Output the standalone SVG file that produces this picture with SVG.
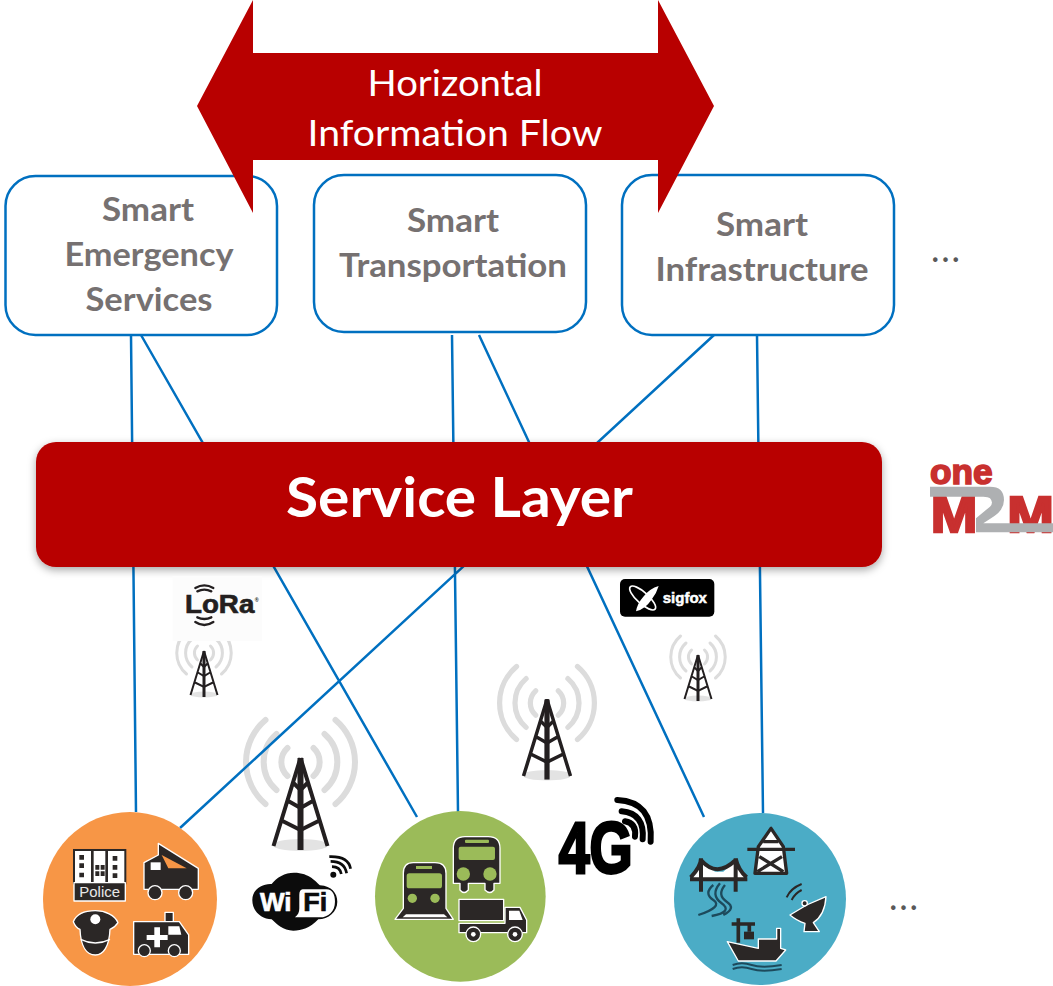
<svg xmlns="http://www.w3.org/2000/svg" xmlns:xlink="http://www.w3.org/1999/xlink" width="1053" height="986" viewBox="0 0 1053 986">
<style>
.link{stroke:#0070c0;stroke-width:2.5;fill:none}
.box{fill:#fff;stroke:#0070c0;stroke-width:2.5}
.lbl{font-family:Lato,"Liberation Sans",sans-serif;font-weight:700;font-size:33px;fill:#767171;text-anchor:middle}
.flow{font-family:Lato,"Liberation Sans",sans-serif;font-size:37px;fill:#fff;text-anchor:middle}
.dots{font-family:Lato,"Liberation Sans",sans-serif;font-size:36px;fill:#595959}
.ic{fill:#2b2726;stroke:#fff;stroke-width:4;stroke-linejoin:round}
.logo{font-family:"Liberation Sans",sans-serif;font-weight:700}
.arc{fill:none;stroke:#dcdcdc;stroke-width:6;stroke-linecap:round}
</style>
<defs>
<filter id="sh" x="-5%" y="-15%" width="110%" height="135%"><feDropShadow dx="0" dy="3" stdDeviation="4" flood-color="#000" flood-opacity=".35"/></filter>
<g id="tower">
<path class="arc" d="M-13-14a19 19 0 0 0 0 28M13-14a19 19 0 0 1 0 28M-24-28a37 37 0 0 0 0 56M24-28a37 37 0 0 1 0 56M-35-42a55 55 0 0 0 0 84M35-42a55 55 0 0 1 0 84"/>
<ellipse cx="0" cy="83" rx="28" ry="6" fill="#e3e3e3"/>
<path fill="none" stroke="#231f20" stroke-width="4" d="M0-4L-27 84M0-4L27 84M-8 20L0 28L8 20M-14 38L0 46L14 38M-20 58L0 68L20 58"/>
<path stroke="#231f20" stroke-width="6" d="M0-4V88"/>
</g>
</defs>
<rect width="1053" height="986" fill="#fff"/>

<g id="boxes">
<g id="node-emergency"><rect class="box" x="5.500" y="176" width="271.500" height="159" rx="30"/>
<text class="lbl" x="148" y="221" textLength="92" lengthAdjust="spacingAndGlyphs">Smart</text>
<text class="lbl" x="149" y="266" textLength="169" lengthAdjust="spacingAndGlyphs">Emergency</text>
<text class="lbl" x="149" y="311" textLength="127" lengthAdjust="spacingAndGlyphs">Services</text></g>
<g id="node-transportation"><rect class="box" x="314" y="175" width="272" height="157" rx="30"/>
<text class="lbl" x="453" y="232" textLength="92" lengthAdjust="spacingAndGlyphs">Smart</text>
<text class="lbl" x="453" y="277" textLength="228" lengthAdjust="spacingAndGlyphs">Transportation</text></g>
<g id="node-infrastructure"><rect class="box" x="622" y="175" width="272" height="160" rx="30"/>
<text class="lbl" x="762" y="236" textLength="92" lengthAdjust="spacingAndGlyphs">Smart</text>
<text class="lbl" x="762" y="281" textLength="213" lengthAdjust="spacingAndGlyphs">Infrastructure</text></g>
</g>

<g id="node-flow">
<polygon fill="#b80000" points="197,106 253,0 253,53 658,53 658,0 714,106 658,213 658,160 253,160 253,213"/>
<text class="flow" x="455" y="96" textLength="175" lengthAdjust="spacingAndGlyphs">Horizontal</text>
<text class="flow" x="455" y="146" textLength="295" lengthAdjust="spacingAndGlyphs">Information Flow</text>
</g>

<text class="dots" x="931" y="262" textLength="29" lengthAdjust="spacing">...</text>
<text class="dots" x="889" y="910" textLength="29" lengthAdjust="spacing">...</text>

<g id="towers">
<use xlink:href="#tower" href="#tower" transform="translate(300.500,762)"/>
<use xlink:href="#tower" href="#tower" transform="translate(547,703) scale(.87)"/>
<use xlink:href="#tower" href="#tower" transform="translate(204,653) scale(.5)"/>
<use xlink:href="#tower" href="#tower" transform="translate(698,657) scale(.5)"/>
</g>

<g id="connectors">
<path class="link" d="M131 335L136 812M141 335L417 817M452 335L458 812M479 335L704 817M714 335L180 828M757 335L763 813"/>
</g>

<g id="node-service-layer">
<rect x="36" y="442" width="846" height="125" rx="20" fill="#b80000" filter="url(#sh)"/>
<text x="459.500" y="517" text-anchor="middle" font-family="Lato,'Liberation Sans',sans-serif" font-weight="700" font-size="56" fill="#fff" textLength="347" lengthAdjust="spacingAndGlyphs">Service Layer</text>
</g>

<g id="logo-onem2m" transform="translate(900,450) scale(.3333)">
<text class="logo" x="90" y="103" font-size="108" fill="#c8302f" stroke="#c8302f" stroke-width="5" textLength="188" lengthAdjust="spacingAndGlyphs">one</text>
<text class="logo" x="92" y="245" font-size="150" fill="#c8302f" stroke="#c8302f" stroke-width="7" textLength="140" lengthAdjust="spacingAndGlyphs">M</text>
<text class="logo" x="322" y="245" font-size="150" fill="#c8302f" stroke="#c8302f" stroke-width="7" textLength="140" lengthAdjust="spacingAndGlyphs">M</text>
<path d="M90 110H270Q312 110 312 150Q312 180 280 200L250 220H459V247H228V205L270 170Q282 158 270 145Q265 140 250 140H90Z" fill="#aeb0b2"/>
</g>

<g id="logo-lora" transform="translate(160,570) scale(.3333)">
<rect x="38" y="18" width="268" height="195" fill="#fcfcfc"/>
<text class="logo" x="75" y="128" font-size="78" fill="#231f20" stroke="#231f20" stroke-width="2" textLength="208" lengthAdjust="spacingAndGlyphs">LoRa</text>
<text class="logo" x="284" y="96" font-size="16" fill="#231f20">®</text>
<path fill="none" stroke="#231f20" stroke-width="7" stroke-linecap="round" d="M112 64Q133 54 154 64M106 54Q133 38 160 54M112 142Q133 152 154 142M106 156Q133 174 160 156"/>
</g>

<g id="logo-sigfox" transform="translate(610,570) scale(.3333)">
<rect x="30" y="27" width="283" height="113" rx="15" fill="#000"/>
<g fill="none" stroke="#fff" stroke-width="5"><ellipse cx="98" cy="84" rx="50" ry="17" transform="rotate(42 98 84)"/></g>
<path fill="#fff" d="M146 48Q120 55 100 80Q82 100 78 124Q105 118 124 90Q140 70 146 48Z"/>
<text class="logo" x="158" y="98" font-size="45" fill="#fff" stroke="#fff" stroke-width="1.500" textLength="133" lengthAdjust="spacingAndGlyphs">sigfox</text>
</g>

<g id="node-emergency-services" transform="translate(20,800) scale(.3333)">
<circle cx="330" cy="297" r="261" fill="#f79646"/>
<rect x="162" y="150" width="154" height="100" fill="#fff" stroke="#2b2726" stroke-width="6"/>
<path fill="#2b2726" d="M213 150h8v98h-8zM264 150h-8v98h8zM178 165h14v14h-14zM178 190h14v14h-14zM178 218h14v14h-14zM278 168h14v14h-14zM278 195h14v14h-14zM278 220h14v14h-14zM226 195h12v14h-12zM242 195h12v14h-12zM226 214h12v14h-12zM242 214h12v14h-12z"/>
<rect class="ic" x="162" y="248" width="154" height="55"/>
<text x="239" y="291" text-anchor="middle" font-family="'Liberation Sans',sans-serif" font-size="42" fill="#e8e8e8" textLength="122" lengthAdjust="spacingAndGlyphs">Police</text>
<path class="ic" d="M372 268V188L415 165V130L535 205V268Z"/>
<path fill="#f79646" d="M425 165L500 205H445Z"/>
<rect x="392" y="187" width="30" height="23" fill="#fff"/>
<circle class="ic" cx="405" cy="278" r="21"/><circle class="ic" cx="497" cy="278" r="21"/>
<path class="ic" d="M160 365C170 340 200 332 226 332C255 332 285 345 294 368C285 382 275 386 270 388C268 440 250 465 226 465C200 465 182 440 180 388C172 385 165 378 160 365Z"/>
<circle cx="226" cy="358" r="15" fill="#fff"/>
<path d="M182 418Q226 440 270 418" fill="none" stroke="#fff" stroke-width="4"/>
<rect class="ic" x="435" y="337" width="25" height="30"/>
<path class="ic" d="M341 365H478L506 405V463H341Z"/>
<path fill="#fff" d="M445 379H478L484 404H445ZM403 382H420V405H443V420H420V442H403V420H380V405H403Z"/>
<circle class="ic" cx="373" cy="452" r="18"/><circle class="ic" cx="463" cy="452" r="18"/>
</g>

<g id="logo-wifi" transform="translate(20,800) scale(.3333)">
<path d="M822 218C870 218 890 248 900 256C935 258 952 280 952 305C952 335 925 358 895 358C870 385 845 392 820 392C790 392 770 372 755 358C725 358 697 335 697 300C697 270 725 250 755 252C770 232 795 218 822 218Z" fill="#0c0c0c"/>
<path d="M848 268H920C938 268 945 285 945 305C945 335 925 352 900 352H825C835 345 838 335 838 325V285C838 275 842 268 848 268Z" fill="#fff"/>
<text class="logo" x="720" y="332" font-size="78" fill="#fff" stroke="#fff" stroke-width="2" textLength="95" lengthAdjust="spacingAndGlyphs">Wi</text>
<text class="logo" x="850" y="332" font-size="78" fill="#0c0c0c" stroke="#0c0c0c" stroke-width="2" textLength="72" lengthAdjust="spacingAndGlyphs">Fi</text>
<circle cx="940" cy="224" r="9" fill="#0c0c0c"/>
<path fill="none" stroke="#0c0c0c" stroke-width="8" d="M936 200Q960 200 964 222M932 184Q974 184 980 220M928 170Q985 168 992 206"/>
</g>

<g id="node-transportation-services" transform="translate(370,780) scale(.3333)">
<circle cx="271" cy="349" r="256" fill="#9bbb59"/>
<path class="ic" d="M75 418L100 385V280Q100 248 130 248H195Q228 248 228 280V385L250 418Z"/>
<path fill="#fff" d="M108 403H222L232 412H98Z"/>
<rect x="110" y="280" width="106" height="45" rx="8" fill="#9bbb59"/>
<rect x="138" y="258" width="48" height="9" fill="#9bbb59"/>
<circle cx="127" cy="355" r="14" fill="#9bbb59"/><circle cx="195" cy="355" r="14" fill="#9bbb59"/>
<path class="ic" d="M250 310V205Q250 170 285 170H355Q390 170 390 205V310H372V330Q360 345 345 330V310H295V330Q282 345 270 330V310Z"/>
<rect x="266" y="200" width="109" height="40" rx="6" fill="#9bbb59"/>
<rect x="285" y="179" width="72" height="10" rx="3" fill="#9bbb59"/>
<circle cx="280" cy="282" r="20" fill="#9bbb59"/><circle cx="360" cy="282" r="20" fill="#9bbb59"/>
<rect class="ic" x="267" y="358" width="134" height="64"/>
<path class="ic" d="M267 430H405V382H450L470 420V458H267Z"/>
<path fill="#fff" d="M417 392H448L458 420H417Z"/>
<circle class="ic" cx="310" cy="463" r="22"/><circle cx="310" cy="463" r="7" fill="#fff"/>
<circle class="ic" cx="435" cy="463" r="22"/><circle cx="435" cy="463" r="7" fill="#fff"/>
</g>

<g id="logo-4g" transform="translate(370,780) scale(.3333)">
<text class="logo" x="566" y="278" font-size="218" fill="#000" stroke="#000" stroke-width="9" textLength="222" lengthAdjust="spacingAndGlyphs">4G</text>
<path fill="none" stroke="#000" stroke-width="18" stroke-linecap="round" d="M765 124Q800 130 795 170M755 94Q825 100 818 178M742 60Q850 65 842 185"/>
</g>

<g id="node-infrastructure-services" transform="translate(670,800) scale(.3333)">
<circle cx="270" cy="297" r="258" fill="#4bacc6"/>
<path fill="#fff" d="M303 85L265 140L255 220H350L340 140Z"/>
<path fill="none" stroke="#2b2726" stroke-width="10" stroke-linejoin="round" d="M303 85L265 140L255 220H350L340 140ZM232 148H375M268 170L340 215M336 170L262 215M280 125H325"/>
<path fill="#fff" d="M62 235L93 180L135 215H160L197 180L230 235Z"/>
<path fill="none" stroke="#2b2726" stroke-width="12" d="M60 238H232M93 175V275M197 175V275M62 232Q93 200 93 175M93 180Q140 235 197 180M197 175Q205 210 230 232"/>
<path fill="none" stroke="#1d4a5c" stroke-width="7" d="M130 255Q100 280 130 300T85 345M150 250Q120 285 155 310T125 348M165 255Q140 285 170 305T160 345"/>
<path class="ic" d="M360 345L410 315L468 290Q465 345 430 368L448 395H402L405 370Q380 362 360 345Z"/>
<circle class="ic" cx="404" cy="310" r="8"/>
<path fill="none" stroke="#2b2726" stroke-width="6" d="M350 292Q362 265 395 252M365 300Q375 280 395 270"/>
<path class="ic" d="M172 425L265 445V417H320V385H332V445L347 450L318 483H205Z"/>
<path fill="none" stroke="#2b2726" stroke-width="11" d="M205 355V428M185 372H255M238 372V395"/>
<rect x="222" y="395" width="30" height="23" fill="#2b2726"/>
<path fill="none" stroke="#1d4a5c" stroke-width="6" d="M188 495Q215 485 245 495T335 495M188 507Q215 497 245 507T335 507"/>
</g>
</svg>
